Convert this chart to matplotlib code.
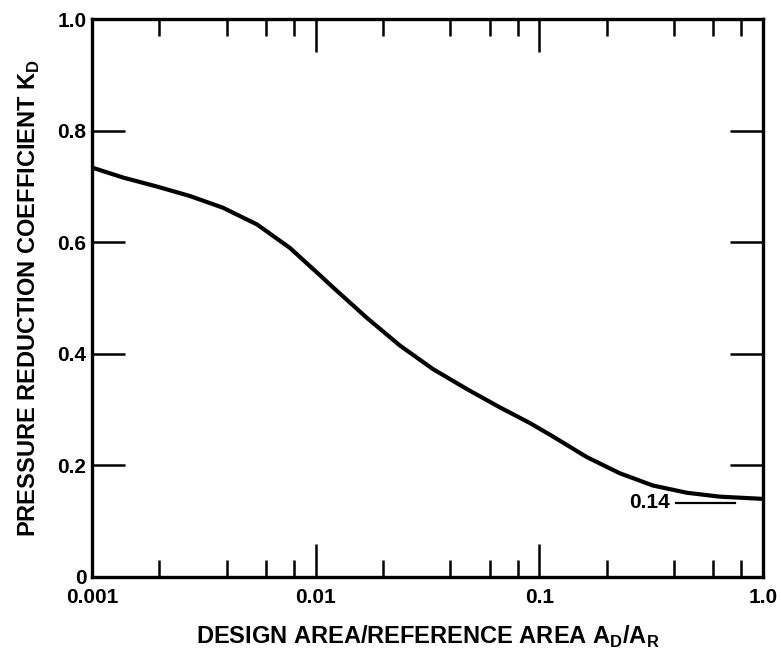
import matplotlib
matplotlib.use("Agg")
import matplotlib.pyplot as plt
from matplotlib.ticker import FixedLocator, NullFormatter

# Data
area_ratio = [0.001, 0.00138, 0.00195, 0.00274, 0.00385, 0.00547, 0.00767,
              0.01045, 0.0119, 0.0169, 0.0238, 0.0334, 0.0474, 0.0667,
              0.0908, 0.115, 0.163, 0.229, 0.322, 0.457, 0.641, 1.0]
kd = [0.734, 0.716, 0.700, 0.683, 0.662, 0.632, 0.590,
      0.541, 0.520, 0.465, 0.415, 0.373, 0.337, 0.304,
      0.276, 0.252, 0.215, 0.186, 0.164, 0.151, 0.144, 0.140]

x_major = [0.001, 0.01, 0.1, 1.0]
x_major_labels = ["0.001", "0.01", "0.1", "1.0"]
x_minor = [m * d for d in (0.001, 0.01, 0.1) for m in (2, 4, 6, 8)]
y_major = [0, 0.2, 0.4, 0.6, 0.8, 1.0]
y_major_labels = ["0", "0.2", "0.4", "0.6", "0.8", "1.0"]

annot_text = "0.14"
annot_y = 0.133
annot_x_text = 0.385
annot_line_x = [0.41, 0.75]

plt.rcParams['font.family'] = ['Liberation Sans', 'DejaVu Sans']

fig = plt.figure(figsize=(7.81, 6.57), dpi=100)
ax = fig.add_axes([0.1178, 0.1218, 0.859, 0.849])

ax.plot(area_ratio, kd, color='black', lw=3.0,
        solid_capstyle='round', solid_joinstyle='round')
ax.set_xscale('log')
ax.set_xlim(0.001, 1.0)
ax.set_ylim(0, 1.0)

ax.xaxis.set_major_locator(FixedLocator(x_major))
ax.set_xticklabels(x_major_labels)
ax.xaxis.set_minor_locator(FixedLocator(x_minor))
ax.xaxis.set_minor_formatter(NullFormatter())
ax.set_yticks(y_major)
ax.set_yticklabels(y_major_labels)
ax.yaxis.set_minor_locator(FixedLocator([]))

ax.tick_params(which='major', direction='in', length=24, width=1.8,
               top=True, right=True, labelsize=15, pad=4)
ax.tick_params(which='minor', direction='in', length=12, width=1.8,
               top=True, right=True)
ax.tick_params(axis='x', which='major', pad=8)
for lab in ax.get_xticklabels() + ax.get_yticklabels():
    lab.set_fontweight('bold')

for s in ax.spines.values():
    s.set_linewidth(2.4)

ax.set_xlabel(r"DESIGN AREA/REFERENCE AREA A$_\mathregular{D}$/A$_\mathregular{R}$",
              fontsize=17, fontweight='bold', labelpad=12)
ax.set_ylabel(r"PRESSURE REDUCTION COEFFICIENT K$_\mathregular{D}$",
              fontsize=17, fontweight='bold', labelpad=11)

ax.plot(annot_line_x, [annot_y, annot_y], color='black', lw=1.6)
ax.text(annot_x_text, annot_y, annot_text, ha='right', va='center',
        fontsize=15, fontweight='bold')

fig.savefig("out.png", dpi=100)
